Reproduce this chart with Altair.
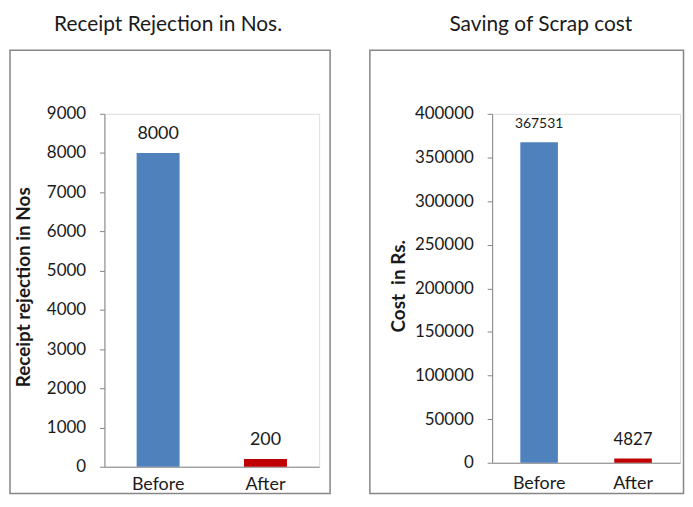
import altair as alt
import pandas as pd

categories = ["Before", "After"]
rejection_values = [8000, 200]
scrap_cost_values = [367531, 4827]
rejection_ticks = [0, 1000, 2000, 3000, 4000, 5000, 6000, 7000, 8000, 9000]
cost_ticks = [0, 50000, 100000, 150000, 200000, 250000, 300000, 350000, 400000]
bar_colors = ["#4F81BD", "#C00000"]
left_title = "Receipt Rejection in Nos."
right_title = "Saving of Scrap cost"
left_ytitle = "Receipt rejection in Nos"
right_ytitle = "Cost\u00a0 in Rs."

FONT = "Lato"
TXT = "#1a1a1a"
GRAY = "#868686"


def panel(values, ticks, ymax, title, ytitle, w, h, frame, title_xy, ytitle_xy,
          ylab_pad, xlab_pad, big_label, small_label):
    df = pd.DataFrame({"category": categories, "value": values,
                       "label": [str(v) for v in values]})
    xenc = alt.X("category:N", sort=categories,
                 scale=alt.Scale(paddingInner=0.6, paddingOuter=0.3),
                 axis=alt.Axis(title=None, labelAngle=0, ticks=False,
                               domainColor=GRAY, domainWidth=1,
                               labelFontSize=18, labelColor=TXT,
                               labelPadding=xlab_pad, labelFont=FONT))
    yenc = alt.Y("value:Q", scale=alt.Scale(domain=[0, ymax], nice=False, zero=True),
                 axis=alt.Axis(values=ticks, format="d", grid=False, title=ytitle,
                               labelOverlap=False, tickCount=len(ticks),
                               tickSize=5, tickColor=GRAY, domainColor=GRAY,
                               labelFontSize=17, labelColor=TXT, labelFont=FONT,
                               labelPadding=ylab_pad,
                               titleFont=FONT, titleFontSize=19, titleFontWeight="bold",
                               titleColor=TXT, titleAngle=-90,
                               titleX=ytitle_xy[0], titleY=ytitle_xy[1],
                               titleAlign="center", titleBaseline="middle"))
    bars = alt.Chart(df).mark_bar().encode(
        x=xenc, y=yenc,
        color=alt.Color("category:N", scale=alt.Scale(domain=categories, range=bar_colors),
                        legend=None))
    labels = alt.Chart(df).mark_text(baseline="alphabetic", dy=-14, font=FONT,
                                      color=TXT).encode(
        x=xenc, y=yenc,
        text="label:N",
        size=alt.condition(alt.datum.category == "Before",
                           alt.value(big_label), alt.value(small_label)))
    one = alt.Data(values=[{"a": 1}])
    border = alt.Chart(one).mark_rect(fillOpacity=0, stroke=GRAY, strokeWidth=1.5).encode(
        x=alt.value(frame[0]), x2=alt.value(frame[1]),
        y=alt.value(frame[2]), y2=alt.value(frame[3]))
    ttl = alt.Chart(one).mark_text(fontSize=21, font=FONT, color=TXT,
                                   baseline="alphabetic", align="center").encode(
        x=alt.value(title_xy[0]), y=alt.value(title_xy[1]), text=alt.value(title))
    return alt.layer(border, bars, labels, ttl).properties(width=w, height=h)


left = panel(rejection_values, rejection_ticks, 9000, left_title, left_ytitle,
             216, 355, (-95, 227, -64, 382), (64, -83), (-81, 174),
             14, 9, 18, 18)
right = panel(scrap_cost_values, cost_ticks, 400000, right_title, right_ytitle,
              189, 351, (-123, 192.5, -64, 382), (49, -83), (-94, 173),
              14, 12, 14, 17)

chart = alt.hconcat(left, right, spacing=36).properties(
    padding={"left": 0, "top": 4, "right": 0, "bottom": 0}
).configure_view(stroke=None).configure(font=FONT)

chart.save("out.html", embed_options={"renderer": "svg", "actions": False})
